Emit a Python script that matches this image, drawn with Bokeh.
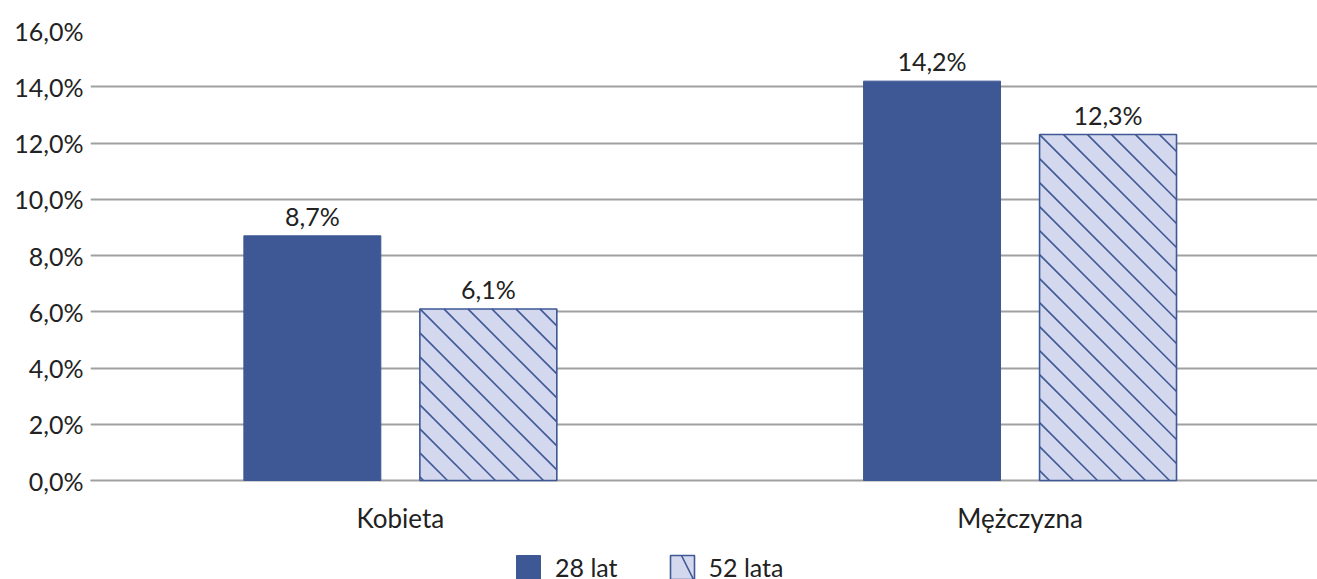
import math
from bokeh.plotting import figure
from bokeh.models import (ColumnDataSource, Range1d, FixedTicker, Legend, LegendItem, LabelSet)
from bokeh.core.properties import value
from bokeh.embed import file_html
from bokeh.resources import INLINE

categories = ["Kobieta", "Mężczyzna"]
series_names = ["28 lat", "52 lata"]
values_28 = [8.7, 14.2]
values_52 = [6.1, 12.3]
y_ticks = [0, 2, 4, 6, 8, 10, 12, 14, 16]

DARK = "#3D5895"
LIGHT = "#D4D8EE"
FONT = "Lato"
TXT = "#222222"

FRAME_W = 1227
PLOT_H = 450          # pixels between 0 % and 16 %
BOTTOM_PX = 99        # room below 0 % for category labels and legend
X_END = len(categories) - 0.02
Y_END = 16
Y_START = -BOTTOM_PX / PLOT_H * Y_END
idx = [i + 0.5 for i in range(len(categories))]
off = 0.142
bw = 0.221
HATCH_PX = 24

def fmt(v):
    return f"{v:.1f}".replace(".", ",") + "%"

x28 = [i - off for i in idx]
x52 = [i + off for i in idx]
src28 = ColumnDataSource(dict(x=x28, top=values_28, lab=[fmt(v) for v in values_28]))
src52 = ColumnDataSource(dict(x=x52, top=values_52, lab=[fmt(v) for v in values_52]))
catsrc = ColumnDataSource(dict(x=idx, y=[0] * len(idx), lab=categories))

# 45-degree "\" hatch lines for the second series, derived from the bars' geometry
sxu = FRAME_W / X_END
syu = PLOT_H / Y_END
hx0, hy0, hx1, hy1 = [], [], [], []
for xc, top in zip(x52, values_52):
    L = (xc - bw / 2) * sxu
    R = (xc + bw / 2) * sxu
    T = top * syu
    kmin = -int(math.ceil(T / HATCH_PX)) - 1
    kmax = int(math.ceil((R - L) / HATCH_PX)) + 1
    for k in range(kmin, kmax + 1):
        x0 = L + k * HATCH_PX
        t_lo = max(L - x0, 0.0)
        t_hi = min(R - x0, T)
        if t_hi - t_lo > 0.5:
            hx0.append((x0 + t_lo) / sxu)
            hy0.append((T - t_lo) / syu)
            hx1.append((x0 + t_hi) / sxu)
            hy1.append((T - t_hi) / syu)
hsrc = ColumnDataSource(dict(x0=hx0, y0=hy0, x1=hx1, y1=hy1))

p = figure(frame_width=FRAME_W, frame_height=PLOT_H + BOTTOM_PX, output_backend="svg",
           toolbar_location=None, x_axis_location=None,
           x_range=Range1d(0, X_END), y_range=Range1d(Y_START, Y_END),
           min_border_left=90, min_border_right=0, min_border_top=30, min_border_bottom=0)
p.outline_line_color = None
p.background_fill_color = "white"
p.border_fill_color = "white"

r1 = p.vbar(x="x", top="top", width=bw, source=src28, fill_color=DARK, line_color=DARK, line_width=1)
p.vbar(x="x", top="top", width=bw, source=src52, fill_color=LIGHT, line_color=None)
p.segment(x0="x0", y0="y0", x1="x1", y1="y1", source=hsrc, line_color=DARK, line_width=1.6)
p.vbar(x="x", top="top", width=bw, source=src52, fill_color=None, line_color=DARK, line_width=1.6)

# legend proxy for the hatched series: one zero-height bar placed outside the visible x range
r2 = p.vbar(x=[-X_END], top=[0], width=bw, fill_color=LIGHT, line_color=DARK, line_width=1.6,
            hatch_pattern="\\", hatch_color=DARK, hatch_scale=48, hatch_weight=1.6)

for s in (src28, src52):
    p.add_layout(LabelSet(x="x", y="top", text="lab", source=s, text_align="center",
                          text_baseline="alphabetic", y_offset=10, text_font=value(FONT),
                          text_font_size="25px", text_color=TXT))

# category labels under the 0 % line
p.add_layout(LabelSet(x="x", y="y", text="lab", source=catsrc, text_align="center",
                      text_baseline="alphabetic", y_offset=-47, text_font=value(FONT),
                      text_font_size="26px", text_color=TXT))

p.yaxis.ticker = FixedTicker(ticks=y_ticks)
p.yaxis.major_label_overrides = {t: fmt(t) for t in y_ticks}
p.yaxis.axis_line_color = None
p.yaxis.major_tick_line_color = None
p.yaxis.minor_tick_line_color = None
p.yaxis.major_tick_out = 0
p.yaxis.minor_tick_out = 0
p.yaxis.major_label_text_font = FONT
p.yaxis.major_label_text_font_size = "25px"
p.yaxis.major_label_text_color = TXT
p.yaxis.major_label_standoff = 7

p.xgrid.grid_line_color = None
p.ygrid.ticker = FixedTicker(ticks=y_ticks)
p.ygrid.grid_line_color = "#A0A0A0"
p.ygrid.grid_line_width = 2
p.ygrid.level = "underlay"

legend = Legend(items=[LegendItem(label=series_names[0], renderers=[r1]),
                       LegendItem(label=series_names[1], renderers=[r2])],
                orientation="horizontal", location=(423, -3),
                label_text_font=FONT, label_text_font_size="25px", label_text_color=TXT,
                glyph_width=30, glyph_height=30, spacing=49, label_standoff=12,
                border_line_color=None, background_fill_alpha=0, margin=0, padding=0)
p.add_layout(legend, "center")

open("out.html", "w").write(file_html(p, INLINE))
